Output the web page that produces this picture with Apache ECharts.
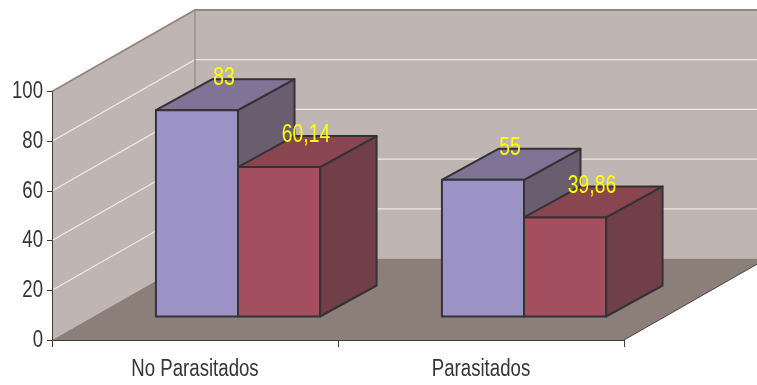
<!DOCTYPE html>
<html>
<head>
<meta charset="utf-8">
<style>html,body{margin:0;padding:0;background:#fff}#chart{width:757px;height:385px}</style>
<script src="https://cdn.jsdelivr.net/npm/echarts@6/dist/echarts.min.js"></script>
</head>
<body>
<div id="chart"></div>
<script>
// Percentages for each group
const categories = ['No Parasitados', 'Parasitados'];
const blueValues = [83, 55];
const redValues = [60.14, 39.86];
const gridTicks = [20, 40, 60, 80];
const yLabels = [0, 20, 40, 60, 80, 100];

// Oblique projection used for the 3D box look
const WALL_DX = 143, WALL_DY = -81.5;     // depth of the chart box
const BASE_DX = 43, BASE_DY = -23.5;      // where the bars stand on the floor
const BAR_DX = 56.5, BAR_DY = -31;        // depth of a single bar
const BAR_RATIO = 0.287;                  // bar width as a share of a category band

const FONT = '"Liberation Sans", Arial, sans-serif';
const TEXT = '#363435';
const OUTLINE = '#353236';

const WALL = '#bfb5b2', FLOOR = '#8c7f7a', WALL_EDGE = '#93857f', GRID = '#efebe9';
const BLUE = { front: '#9b93c6', top: '#807496', side: '#6a5d70' };
const RED = { front: '#a44f5f', top: '#8a4650', side: '#713f47' };

function poly(points, fill, stroke, width) {
  return {
    type: 'polygon',
    shape: { points },
    style: { fill, stroke: stroke || 'none', lineWidth: width || 0, lineJoin: 'round' }
  };
}
function line(points, stroke, width) {
  return {
    type: 'polyline',
    shape: { points },
    style: { fill: 'none', stroke, lineWidth: width }
  };
}
// The chart's lettering is a condensed sans, so the text is squeezed horizontally
function narrowText(text, x, y, fill, align, sx, sy) {
  return {
    type: 'text',
    z2: 10,
    x,
    y,
    scaleX: sx,
    scaleY: sy,
    style: { x: 0, y: 0, text, fill, font: '23px ' + FONT, align, verticalAlign: 'middle' }
  };
}

// Side wall, back wall, floor, wall gridlines and the axis lettering
function renderBox(params, api) {
  const band = api.size([1, 0])[0];
  const x1 = api.coord([0, 0])[0] - band / 2;
  const x2 = x1 + band * categories.length;
  const yBase = api.coord([0, 0])[1];
  const yTop = api.coord([0, 100])[1];
  const children = [
    poly([[x1 + WALL_DX, yTop + WALL_DY], [x2 + WALL_DX, yTop + WALL_DY],
          [x2 + WALL_DX, yBase + WALL_DY], [x1 + WALL_DX, yBase + WALL_DY]], WALL),
    poly([[x1, yTop], [x1 + WALL_DX, yTop + WALL_DY],
          [x1 + WALL_DX, yBase + WALL_DY], [x1, yBase]], WALL)
  ];
  gridTicks.forEach(t => {
    const y = api.coord([0, t])[1];
    children.push(line([[x1, y], [x1 + WALL_DX, y + WALL_DY], [x2 + WALL_DX, y + WALL_DY]], GRID, 1.2));
  });
  children.push(
    poly([[x1, yBase], [x1 + WALL_DX, yBase + WALL_DY],
          [x2 + WALL_DX, yBase + WALL_DY], [x2, yBase]], FLOOR),
    line([[x1, yTop], [x1 + WALL_DX, yTop + WALL_DY], [x2 + WALL_DX, yTop + WALL_DY]], WALL_EDGE, 1.8),
    line([[x1 + WALL_DX, yTop + WALL_DY], [x1 + WALL_DX, yBase + WALL_DY]], WALL_EDGE, 1.2),
    line([[x2, yBase], [x2 + WALL_DX, yBase + WALL_DY]], '#4a4545', 1)
  );
  yLabels.forEach(t => {
    children.push(narrowText(String(t), x1 - 9, api.coord([0, t])[1], TEXT, 'right', 0.81, 1.08));
  });
  categories.forEach((name, i) => {
    children.push(narrowText(name, api.coord([i, 0])[0], yBase + 29, TEXT, 'center', 0.81, 1.08));
  });
  return { type: 'group', children };
}

// One extruded bar; side is -1 for the left bar of a pair and 0 for the right one
function makeBar(colors, side) {
  return function (params, api) {
    const cat = api.value(0);
    const val = api.value(1);
    const band = api.size([1, 0])[0];
    const w = band * BAR_RATIO;
    const top = api.coord([cat, val]);
    const base = api.coord([cat, 0]);
    const l = top[0] + side * w + BASE_DX;
    const r = l + w;
    const yt = top[1] + BASE_DY;
    const yb = base[1] + BASE_DY;
    const text = String(val).replace('.', ',');
    return {
      type: 'group',
      children: [
        poly([[r, yt], [r + BAR_DX, yt + BAR_DY], [r + BAR_DX, yb + BAR_DY], [r, yb]], colors.side, OUTLINE, 2),
        poly([[l, yt], [l + BAR_DX, yt + BAR_DY], [r + BAR_DX, yt + BAR_DY], [r, yt]], colors.top, OUTLINE, 2),
        poly([[l, yt], [r, yt], [r, yb], [l, yb]], colors.front, OUTLINE, 2),
        narrowText(text, (l + r) / 2 + 27, yt - 32, '#ffff00', 'center', 0.84, 1.14)
      ]
    };
  };
}

const chart = echarts.init(document.getElementById('chart'), null, { renderer: 'canvas' });
chart.setOption({
  animation: false,
  backgroundColor: '#ffffff',
  grid: { left: 52, right: 133, top: 91.5, bottom: 45, containLabel: false },
  xAxis: {
    type: 'category',
    data: categories,
    z: 5,
    boundaryGap: true,
    axisLine: { lineStyle: { color: '#3f3c3d', width: 1 } },
    axisTick: { show: true, alignWithLabel: false, length: 7, lineStyle: { color: '#3f3c3d' } },
    axisLabel: { show: false }
  },
  yAxis: {
    type: 'value',
    min: 0,
    max: 100,
    interval: 20,
    z: 5,
    splitLine: { show: false },
    axisLine: { show: true, lineStyle: { color: '#3f3c3d', width: 1 } },
    axisTick: { show: true, length: 5, lineStyle: { color: '#3f3c3d' } },
    axisLabel: { show: false }
  },
  series: [
    { type: 'custom', renderItem: renderBox, data: [[0, 0]], silent: true, clip: false },
    { type: 'custom', renderItem: makeBar(BLUE, -1), data: blueValues.map((v, i) => [i, v]), clip: false },
    { type: 'custom', renderItem: makeBar(RED, 0), data: redValues.map((v, i) => [i, v]), clip: false }
  ]
});
</script>
</body>
</html>
